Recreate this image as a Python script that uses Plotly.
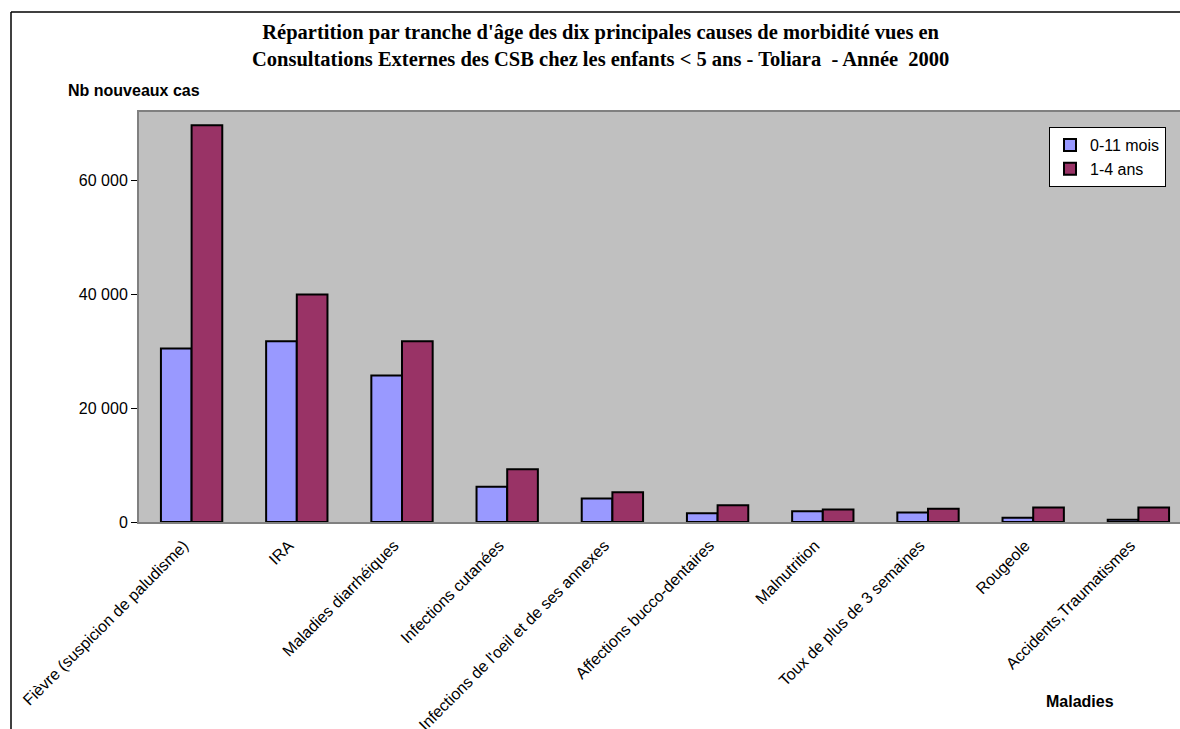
import plotly.graph_objects as go

categories = [
    "Fièvre (suspicion de paludisme)",
    "IRA",
    "Maladies diarrhéiques",
    "Infections cutanées",
    "Infections de l'oeil et de ses annexes",
    "Affections bucco-dentaires",
    "Malnutrition",
    "Toux de plus de 3 semaines",
    "Rougeole",
    "Accidents,Traumatismes",
]
mois_0_11 = [30450, 31730, 25710, 6170, 4120, 1540, 1890, 1660, 740, 400]
ans_1_4 = [69660, 39960, 31730, 9250, 5220, 2950, 2190, 2310, 2540, 2540]
series_names = ["0-11 mois", "1-4 ans"]
ytick_vals = [0, 20000, 40000, 60000]
ytick_text = ["0", "20 000", "40 000", "60 000"]

W, H = 1180, 729
L, T, B = 139, 112, 522
PW, PH = W - L, B - T

def px_x(px):
    return (px - L) / PW

def px_y(py):
    return (B - py) / PH

fig = go.Figure()
fig.add_trace(go.Bar(x=categories, y=mois_0_11, name=series_names[0],
                     marker=dict(color="#9999FF", line=dict(color="black", width=2))))
fig.add_trace(go.Bar(x=categories, y=ans_1_4, name=series_names[1],
                     marker=dict(color="#993366", line=dict(color="black", width=2))))

cat_w = 105.2
fig.update_layout(
    width=W, height=H,
    margin=dict(l=L, r=0, t=T, b=H - B, pad=0, autoexpand=False),
    paper_bgcolor="white",
    plot_bgcolor="#C0C0C0",
    barmode="group",
    bargap=0.417,
    bargroupgap=0,
    font=dict(family="Arial, Liberation Sans, sans-serif", size=16, color="black"),
    showlegend=True,
    legend=dict(x=px_x(1049), y=px_y(127), xanchor="left", yanchor="top",
                bgcolor="white", bordercolor="black", borderwidth=1,
                font=dict(size=16), itemwidth=30, tracegroupgap=0),
    xaxis=dict(
        type="category",
        range=[-0.5, -0.5 + PW / cat_w],
        tickangle=-45,
        showline=True, linecolor="#808080", linewidth=2, mirror=True,
        ticks="", showgrid=False,
        tickfont=dict(size=16),
        ticklabelshift=-8,
        ticklabelstandoff=6,
        automargin=False,
    ),
    yaxis=dict(
        range=[0, 72000],
        tickvals=ytick_vals, ticktext=ytick_text,
        ticks="outside", ticklen=6, tickcolor="black",
        showline=True, linecolor="#808080", linewidth=2, mirror=True,
        showgrid=False, zeroline=False,
        tickfont=dict(size=16),
        automargin=False,
    ),
    annotations=[
        dict(text="<b>Répartition par tranche d'âge des dix principales causes de morbidité vues en<br>"
                  "Consultations Externes des CSB chez les enfants < 5 ans - Toliara  - Année  2000</b>",
             x=px_x(600), y=px_y(45), xref="paper", yref="paper",
             xanchor="center", yanchor="middle", showarrow=False,
             font=dict(family="Liberation Serif, Times New Roman, serif", size=20.5, color="black")),
        dict(text="<b>Nb nouveaux cas</b>", x=px_x(66), y=px_y(91), xref="paper", yref="paper",
             xanchor="left", yanchor="middle", showarrow=False, font=dict(size=16)),
        dict(text="<b>Maladies</b>", x=px_x(1080), y=px_y(701), xref="paper", yref="paper",
             xanchor="center", yanchor="middle", showarrow=False, font=dict(size=16)),
    ],
    shapes=[
        dict(type="line", xref="paper", yref="paper", x0=px_x(11), x1=px_x(11),
             y0=px_y(12), y1=px_y(740), line=dict(color="black", width=1.5)),
        dict(type="line", xref="paper", yref="paper", x0=px_x(11), x1=px_x(1190),
             y0=px_y(12), y1=px_y(12), line=dict(color="black", width=1.5)),
    ],
)

fig.write_html("out.html", config={"displayModeBar": False},
               post_script="document.body.style.margin='0px';")
